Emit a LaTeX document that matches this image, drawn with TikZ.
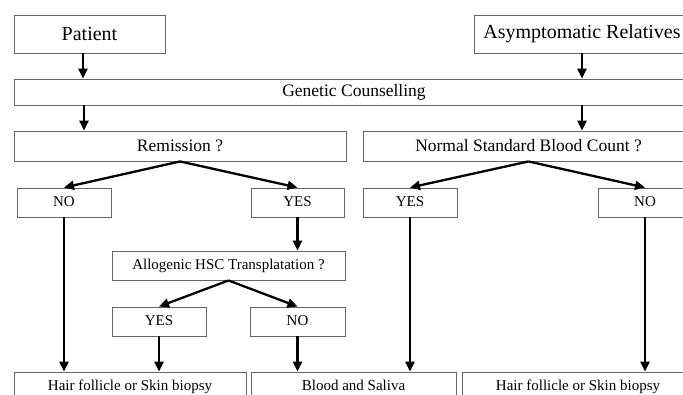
\documentclass[tikz,border=0pt]{standalone}
\usepackage{fontspec}
\setmainfont{Liberation Serif}
\usetikzlibrary{arrows.meta}

\begin{document}
\begin{tikzpicture}[x=1pt, y=-1pt,
    box/.style={draw=black!60, line width=0.9pt, inner sep=0pt, minimum height=29pt},
    bigtxt/.style={font=\fontsize{20}{24}\selectfont},
    midtxt/.style={font=\fontsize{17.5}{21}\selectfont},
    smalltxt/.style={font=\fontsize{15}{18}\selectfont, text height=10.5pt, text depth=3.5pt},
    flow/.style={line width=2.3pt, -{Triangle[length=10pt, width=9pt]}}]
                \useasboundingbox (0,0) rectangle (683,394);
                \clip (0,0) rectangle (683,394);
                % top row
                \node[box, bigtxt, minimum width=151pt, minimum height=38pt] (patient) at (89.5,34) {Patient};
                \node[box, bigtxt, minimum width=216pt, minimum height=38pt] (relatives) at (582,34) {Asymptomatic Relatives};
                \node[box, midtxt, minimum width=680pt, minimum height=26pt] (genetic) at (354,92) {Genetic Counselling};
                \node[box, midtxt, minimum width=332pt, minimum height=30pt] (remission) at (180,146) {Remission ?};
                \node[box, midtxt, minimum width=331pt, minimum height=30pt] (bloodcount) at (528.5,146) {Normal Standard Blood Count ?};
                % answers
                \node[box, smalltxt, minimum width=94pt] (remno) at (64,202.5) {NO};
                \node[box, smalltxt, minimum width=93pt] (remyes) at (297.5,202.5) {YES};
                \node[box, smalltxt, minimum width=94pt] (countyes) at (410,202.5) {YES};
                \node[box, smalltxt, minimum width=94pt] (countno) at (645,202.5) {NO};
                \node[box, smalltxt, minimum width=233pt] (transplant) at (228.5,265.5) {Allogenic HSC Transplatation ?};
                \node[box, smalltxt, minimum width=94pt] (transyes) at (159,321.5) {YES};
                \node[box, smalltxt, minimum width=95pt] (transno) at (297.5,321.5) {NO};
                % samples
                \node[box, smalltxt, minimum width=232pt, minimum height=30pt] (hairleft) at (130,387) {Hair follicle or Skin biopsy};
                \node[box, smalltxt, minimum width=205pt, minimum height=30pt] (saliva) at (353.5,387) {Blood and Saliva};
                \node[box, smalltxt, minimum width=232pt, minimum height=30pt] (hairright) at (578,387) {Hair follicle or Skin biopsy};
                % arrows
                \draw[flow] ([xshift=-6.5pt]patient.south) -- ([xshift=-6.5pt]patient.south |- genetic.north);
                \draw[flow] (relatives.south) -- (relatives.south |- genetic.north);
                \draw[flow] ([xshift=-5.5pt]patient.south |- genetic.south) -- ([xshift=-5.5pt]patient.south |- remission.north);
                \draw[flow] (relatives.south |- genetic.south) -- (relatives.south |- bloodcount.north);
                \draw[flow] (remission.south) -- (remno.north);
                \draw[flow] (remission.south) -- (remyes.north);
                \draw[flow] (bloodcount.south) -- (countyes.north);
                \draw[flow] (bloodcount.south) -- (countno.north);
                \draw[flow] (remno.south) -- (remno.south |- hairleft.north);
                \draw[flow] (remyes.south) -- (remyes.south |- transplant.north);
                \draw[flow] (transplant.south) -- (transyes.north);
                \draw[flow] (transplant.south) -- (transno.north);
                \draw[flow] (transyes.south) -- (transyes.south |- hairleft.north);
                \draw[flow] (transno.south) -- (transno.south |- saliva.north);
                \draw[flow] (countyes.south) -- (countyes.south |- saliva.north);
                \draw[flow] (countno.south) -- (countno.south |- hairright.north);
            \end{tikzpicture}
\end{document}
